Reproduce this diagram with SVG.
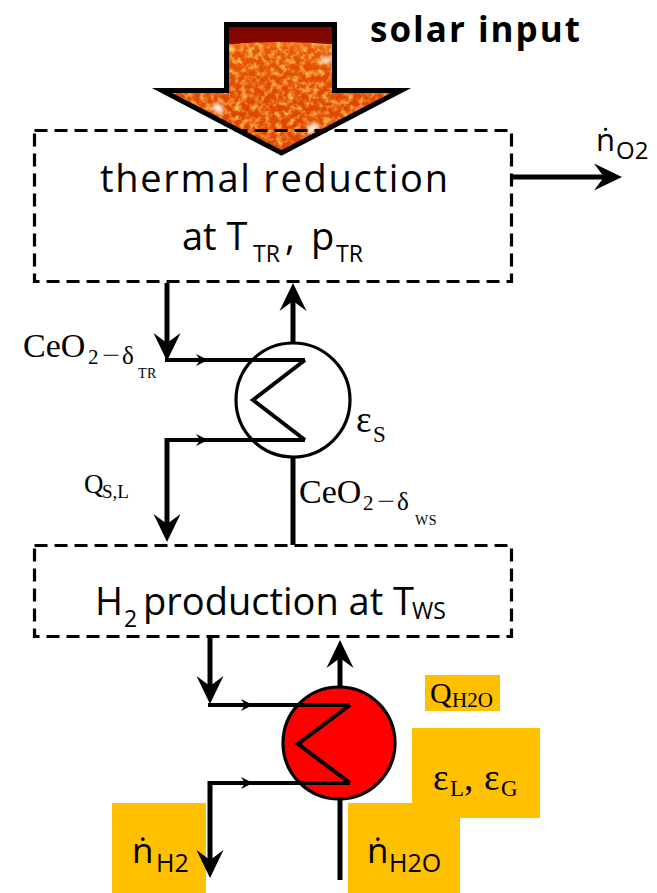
<svg xmlns="http://www.w3.org/2000/svg" width="657" height="893" viewBox="0 0 657 893">
<style>
.box{fill:none;stroke:#000;stroke-width:3.2;stroke-dasharray:13 7}
.sans{font-family:"Open Sans","Noto Sans","Liberation Sans",sans-serif;fill:#000}
.serif{font-family:"Liberation Serif","DejaVu Serif",serif;fill:#000}
.thick{fill:none;stroke:#000;stroke-width:5}
.thin{fill:none;stroke:#000;stroke-width:4}
.hx{stroke:#000;stroke-width:3.2}
.tag{fill:#FFC000}
</style>
<defs>
<marker id="big" viewBox="-30 -16 32 32" markerWidth="32" markerHeight="32" refX="-18" refY="0" orient="auto" markerUnits="userSpaceOnUse">
<path d="M0,0 L-28,-13.5 L-18,0 L-28,13.5 Z" fill="#000"/>
</marker>
<marker id="chev" viewBox="-14 -8 16 16" markerWidth="16" markerHeight="16" refX="0" refY="0" orient="auto" markerUnits="userSpaceOnUse">
<path d="M0,0 L-12,-6 L-8,0 L-12,6 Z" fill="#000"/>
</marker>
<clipPath id="arrowClip">
<path d="M226.5,24.5 H334.5 V90.5 H401 L281.5,153 L162,90.5 H226.5 Z"/>
</clipPath>
<linearGradient id="space" x1="0" y1="0" x2="0" y2="1">
<stop offset="0" stop-color="#7a0400"/>
<stop offset="1" stop-color="#c42400"/>
</linearGradient>
<radialGradient id="sun" cx="281" cy="620" r="578" gradientUnits="userSpaceOnUse">
<stop offset="0.9" stop-color="#e04600"/>
<stop offset="0.985" stop-color="#e65404"/>
<stop offset="1" stop-color="#f0701a"/>
</radialGradient>
<filter id="grainLight" filterUnits="userSpaceOnUse" x="150" y="20" width="260" height="140">
<feTurbulence type="fractalNoise" baseFrequency="0.17" numOctaves="3" seed="7"/>
<feColorMatrix type="matrix" values="0 0 0 0 1  0 0 0 0 0.58  0 0 0 0 0.12  2.4 0 0 0 -1.02"/>
</filter>
<filter id="grainDark" filterUnits="userSpaceOnUse" x="150" y="20" width="260" height="140">
<feTurbulence type="fractalNoise" baseFrequency="0.16" numOctaves="2" seed="21"/>
<feColorMatrix type="matrix" values="0 0 0 0 0.75  0 0 0 0 0.12  0 0 0 0 0  -2.6 0 0 0 1.3"/>
</filter>
<filter id="blur" x="-1" y="-1" width="3" height="3">
<feGaussianBlur stdDeviation="2.2"/>
</filter>
<clipPath id="sunClip"><circle cx="281" cy="620" r="578"/></clipPath>
</defs>

<g id="node-solar-input">
<g clip-path="url(#arrowClip)">
<rect x="150" y="20" width="260" height="140" fill="url(#space)"/>
<circle cx="281" cy="620" r="578" fill="url(#sun)"/>
<g clip-path="url(#sunClip)">
<rect x="150" y="40" width="260" height="120" filter="url(#grainDark)"/>
<rect x="150" y="40" width="260" height="120" filter="url(#grainLight)"/>
</g>
<g fill="#fff" filter="url(#blur)">
<ellipse cx="326" cy="60" rx="6" ry="3"/>
<ellipse cx="218" cy="108" rx="6" ry="4" transform="rotate(35 218 108)"/>
<ellipse cx="313" cy="128" rx="6" ry="4" transform="rotate(-30 313 128)"/>
</g>
</g>
<path d="M226.5,24.5 H334.5 V90.5 H401 L281.5,153 L162,90.5 H226.5 Z" fill="none" stroke="#000" stroke-width="5" stroke-miterlimit="12"/>
<text class="sans" x="370" y="42" font-size="35" font-weight="bold" textLength="210">solar input</text>
</g>

<g id="node-thermal-reduction">
<rect class="box" x="34.5" y="130.5" width="477" height="151"/>
<text class="sans" x="100" y="192" font-size="38" textLength="348">thermal reduction</text>
<text class="sans" y="250" font-size="38"><tspan x="182">at T</tspan><tspan x="253" y="262" font-size="23">TR</tspan><tspan x="285" y="250">,</tspan><tspan x="311" y="250">p</tspan><tspan x="336" y="262" font-size="23">TR</tspan></text>
</g>

<g id="node-h2-production">
<rect class="box" x="34.5" y="545.5" width="477" height="91"/>
<text class="sans" y="615" font-size="38"><tspan x="95">H</tspan><tspan x="124" y="627" font-size="23">2</tspan><tspan x="143" y="615">production at T</tspan><tspan x="412" y="619" font-size="23">WS</tspan></text>
</g>

<g id="node-hx-solid">
<circle class="hx" cx="293" cy="400" r="57" fill="#fff"/>
</g>

<g id="node-hx-gas">
<circle class="hx" cx="339" cy="743" r="56" fill="#ff0000"/>
</g>

<g id="tags">
<rect class="tag" x="425" y="675" width="75" height="36"/>
<rect class="tag" x="412" y="728" width="128" height="90"/>
<rect class="tag" x="348" y="803" width="112" height="90"/>
<rect class="tag" x="112" y="803" width="94" height="90"/>
</g>

<g id="connectors">
<path class="thick" d="M513,177 H604" marker-end="url(#big)"/>
<path class="thick" d="M167,283 V343" marker-end="url(#big)"/>
<path class="thin" d="M165,360 H208 H305" marker-mid="url(#chev)"/>
<path class="thin" d="M305,360 L253,400 L305,440"/>
<path class="thin" d="M165,440 H208 H305" marker-mid="url(#chev)"/>
<path class="thick" d="M167,438 V524" marker-end="url(#big)"/>
<path class="thick" d="M293,343 V301" marker-end="url(#big)"/>
<path class="thick" d="M293,457 V545"/>
<path class="thick" d="M210,638 V686" marker-end="url(#big)"/>
<path class="thin" d="M208,705 H253 H350" marker-mid="url(#chev)"/>
<path class="thin" d="M350,705 L298,744 L350,783"/>
<path class="thin" d="M208,783 H253 H350" marker-mid="url(#chev)"/>
<path class="thick" d="M210,781 V860" marker-end="url(#big)"/>
<path class="thick" d="M340,687 V658" marker-end="url(#big)"/>
<path class="thick" d="M340,800 V880"/>
</g>

<g id="labels">
<text class="sans" font-size="31"><tspan x="596" y="151">ṅ</tspan><tspan x="616" y="159" font-size="24">O2</tspan></text>
<g id="label-ceo-tr" class="serif">
<text x="23" y="357" font-size="34">CeO</text>
<text x="88" y="364" font-size="21">2</text>
<text x="102" y="362" font-size="21" textLength="18" lengthAdjust="spacingAndGlyphs">−</text>
<text x="122" y="364" font-size="25">δ</text>
<text x="138" y="378" font-size="14" letter-spacing="0.5">TR</text>
</g>
<text class="serif" font-size="27"><tspan x="84" y="493">Q</tspan><tspan x="102" y="498" font-size="19">S,L</tspan></text>
<text class="serif" font-size="37"><tspan x="356" y="432">ε</tspan><tspan x="373" y="442" font-size="23">S</tspan></text>
<g id="label-ceo-ws" class="serif">
<text x="299" y="503" font-size="34">CeO</text>
<text x="363" y="510" font-size="21">2</text>
<text x="377" y="508" font-size="21" textLength="18" lengthAdjust="spacingAndGlyphs">−</text>
<text x="397" y="510" font-size="25">δ</text>
<text x="415" y="525" font-size="14" letter-spacing="0.5">WS</text>
</g>
<text class="serif" font-size="30"><tspan x="430" y="703">Q</tspan><tspan x="452" y="707" font-size="21">H2O</tspan></text>
<text class="serif" font-size="37"><tspan x="433" y="790">ε</tspan><tspan x="450" y="796" font-size="23">L</tspan><tspan x="464" y="790">,</tspan><tspan x="484" y="790">ε</tspan><tspan x="501" y="796" font-size="23">G</tspan></text>
<text class="sans" font-size="35"><tspan x="132" y="863">ṅ</tspan><tspan x="156" y="872" font-size="25">H2</tspan></text>
<text class="sans" font-size="35"><tspan x="367" y="863">ṅ</tspan><tspan x="389" y="872" font-size="25">H2O</tspan></text>
</g>
</svg>
